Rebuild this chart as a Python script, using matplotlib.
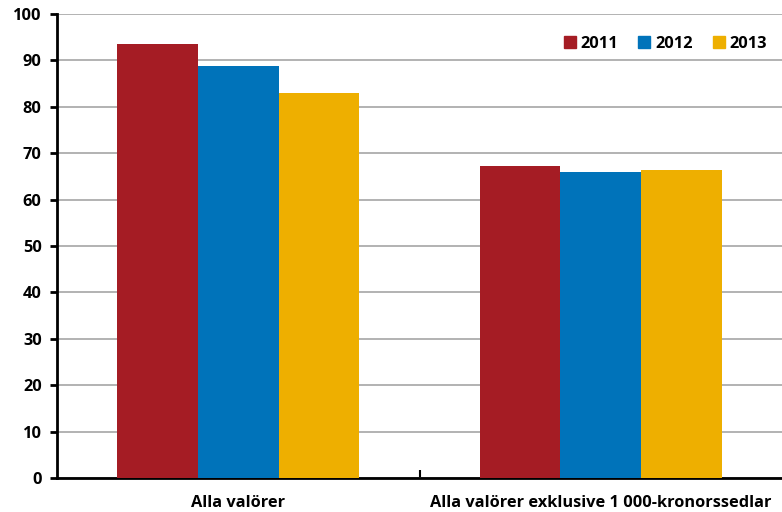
import matplotlib
matplotlib.use("Agg")
import matplotlib.pyplot as plt
import numpy as np
from matplotlib.patches import Patch

categories = ["Alla valörer", "Alla valörer exklusive 1 000-kronorssedlar"]
years = ["2011", "2012", "2013"]
values_2011 = [93.5, 67.2]
values_2012 = [88.8, 65.9]
values_2013 = [83.0, 66.4]
yticks = [0, 10, 20, 30, 40, 50, 60, 70, 80, 90, 100]
colors = ["#A51C24", "#0073BA", "#EEAF00"]

plt.rcParams['font.family'] = ['Open Sans', 'DejaVu Sans']
plt.rcParams['font.weight'] = 'bold'

fig = plt.figure(figsize=(7.82, 5.12), dpi=100)
ax = fig.add_axes([57/782, 34/512, 1 - 57/782, 464/512])

x = np.arange(len(categories))
w = 0.2225
for i, (vals, c, lab) in enumerate(zip([values_2011, values_2012, values_2013], colors, years)):
    ax.bar(x + (i - 1) * w, vals, width=w, color=c, label=lab, zorder=3)

ax.set_xlim(-0.5, 1.5)
ax.set_ylim(0, 100)
ax.set_yticks(yticks)
ax.set_yticklabels([str(t) for t in yticks], fontsize=11.8, fontweight="bold")
ax.yaxis.grid(True, color="#a6a6a6", linewidth=1.2, zorder=0)
ax.set_axisbelow(True)

for s in ["top", "right"]:
    ax.spines[s].set_visible(False)
ax.spines["left"].set_linewidth(2)
ax.spines["bottom"].set_linewidth(2)

ax.set_xticks(x)
ax.set_xticklabels(categories, fontsize=11.8, fontweight="bold")
ax.tick_params(axis="x", length=0, pad=12)
ax.set_xticks([0.5], minor=True)
ax.tick_params(axis="x", which="minor", direction="in", length=6, width=1.5, color="black")
ax.tick_params(axis="y", direction="out", length=5, width=2, pad=6)

handles = [Patch(color=c, label=l) for c, l in zip(colors, years)]
leg = ax.legend(handles=handles, loc="upper right", bbox_to_anchor=(1.0, 0.985), ncol=3,
                frameon=False, handlelength=0.75, handleheight=0.75,
                handletextpad=0.3, columnspacing=1.2, prop={"weight": "bold", "size": 11.8})

fig.savefig("out.png", dpi=100)
